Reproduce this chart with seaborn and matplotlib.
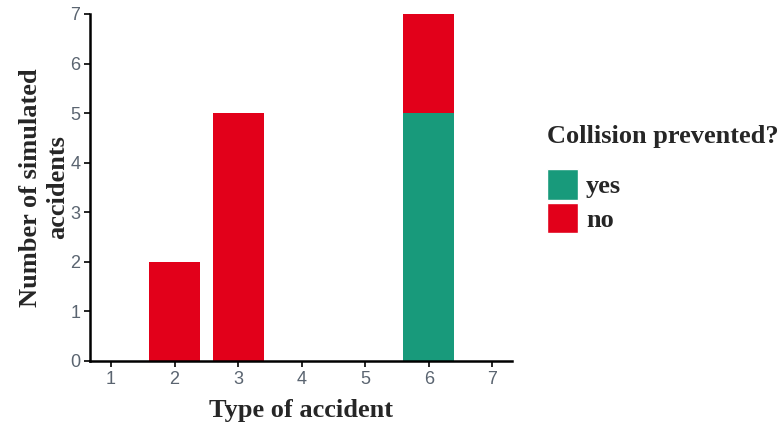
import numpy as np
import pandas as pd
import seaborn as sns
import matplotlib.pyplot as plt
from matplotlib.patches import Patch

# values
accident_type = [1, 2, 3, 4, 5, 6, 7]
prevented_yes = [0, 0, 0, 0, 0, 5, 0]
prevented_no = [0, 2, 5, 0, 0, 2, 0]

green = "#189a7b"
red = "#e2001a"

df = pd.DataFrame({"type": accident_type, "yes": prevented_yes, "no": prevented_no})
df["total"] = df["yes"] + df["no"]

sns.set_style("ticks")
plt.rcParams["font.family"] = ["Liberation Sans", "DejaVu Sans"]

fig = plt.figure(figsize=(7.83, 4.23), dpi=100)
ax = fig.add_axes([0.115, 0.1466, 0.539, 0.8204])

# stacked bars: total in red, "yes" part drawn over it in green
sns.barplot(data=df, x="type", y="total", color=red, native_scale=True,
            width=0.8, saturation=1, ax=ax, edgecolor="none")
sns.barplot(data=df, x="type", y="yes", color=green, native_scale=True,
            width=0.8, saturation=1, ax=ax, edgecolor="none")

ax.set_xlim(0.67, 7.31)
ax.set_ylim(0, 7)
ax.set_xticks(accident_type)
ax.set_yticks(range(0, 8))
ax.tick_params(axis="both", labelsize=13, labelcolor="#5a6470", color="black",
               length=4, width=1.2, direction="out", pad=3)
for side in ["left", "bottom"]:
    ax.spines[side].set_linewidth(1.8)
    ax.spines[side].set_color("black")
sns.despine(ax=ax)

serif = {"family": ["Liberation Serif", "DejaVu Serif"], "weight": "bold", "size": 19}
ax.set_xlabel("Type of accident", fontdict=serif, labelpad=8)
ax.set_ylabel("Number of simulated\naccidents", fontdict=serif, labelpad=1,
              linespacing=1.2)

handles = [Patch(facecolor=green, label="yes"), Patch(facecolor=red, label="no")]
leg = fig.legend(handles=handles, title="Collision prevented?",
                 loc="upper left", bbox_to_anchor=(0.698, 0.704),
                 frameon=False, handlelength=1.2, handleheight=1.4,
                 handletextpad=0.3, labelspacing=0.12, borderpad=0, borderaxespad=0,
                 prop={"family": ["Liberation Serif"], "weight": "bold", "size": 19},
                 title_fontproperties={"family": ["Liberation Serif"], "weight": "bold", "size": 19})
leg._legend_box.align = "left"
leg._legend_box.sep = 15

fig.savefig("out.png", dpi=100)
